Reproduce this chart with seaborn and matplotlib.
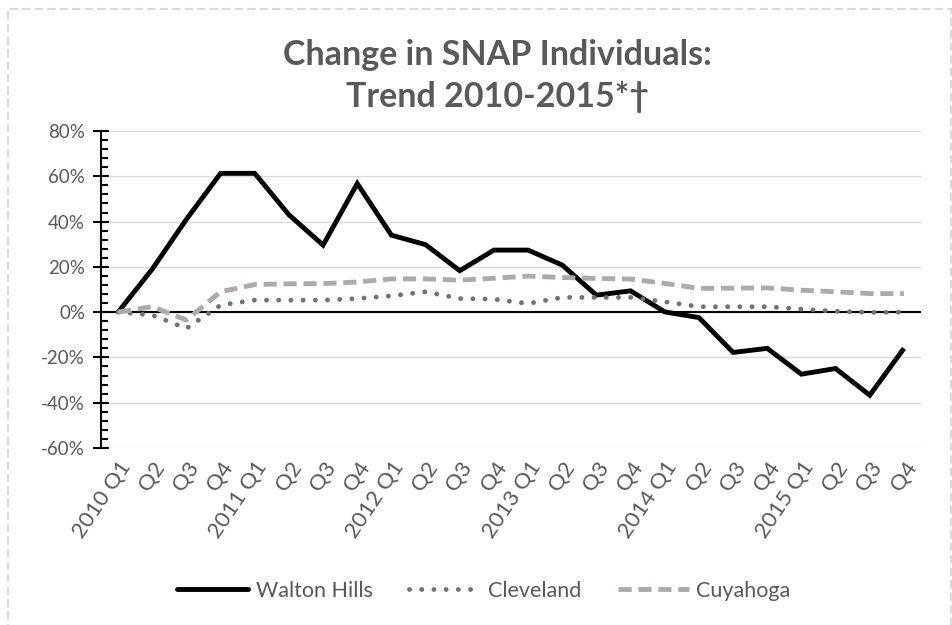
import numpy as np
import pandas as pd
import matplotlib
matplotlib.use("Agg")
import matplotlib.pyplot as plt
import seaborn as sns
from matplotlib.ticker import MultipleLocator, FuncFormatter
from matplotlib.patches import Rectangle
from matplotlib.lines import Line2D

quarters = ["2010 Q1", "Q2", "Q3", "Q4", "2011 Q1", "Q2", "Q3", "Q4",
            "2012 Q1", "Q2", "Q3", "Q4", "2013 Q1", "Q2", "Q3", "Q4",
            "2014 Q1", "Q2", "Q3", "Q4", "2015 Q1", "Q2", "Q3", "Q4"]

walton_hills = [0, 19, 41, 61.3, 61.3, 43, 29.6, 56.8, 34, 29.8, 18.3, 27.4,
                27.4, 20.8, 7.5, 9.4, 0.1, -2.4, -17.8, -16, -27.4, -24.9, -36.7, -16]
cleveland = [0, -1.3, -7.2, 3.1, 5.3, 5.3, 5.3, 6, 7.2, 9, 6, 5.7,
             3.8, 6.5, 6.5, 6.5, 4.6, 2.4, 2.4, 2.4, 1.3, 0.4, -0.1, 0]
cuyahoga = [0, 2.4, -3.5, 9, 12.2, 12.5, 12.6, 13.3, 14.7, 14.7, 14.1, 15,
            15.9, 15.3, 14.9, 14.6, 12.7, 10.5, 10.6, 10.7, 9.7, 9.0, 8.2, 8.2]

series_names = ["Walton Hills", "Cleveland", "Cuyahoga"]

df = pd.DataFrame({
    "x": list(range(len(quarters))) * 3,
    "value": walton_hills + cleveland + cuyahoga,
    "series": sum([[n] * len(quarters) for n in series_names], []),
})

sns.set_theme(style="white")
plt.rcParams["font.family"] = ["Lato", "DejaVu Sans"]

fig = plt.figure(figsize=(9.52, 6.25), dpi=100)
ax = fig.add_axes([101 / 952, 1 - 448 / 625, (921 - 101) / 952, (448 - 131) / 625])

palette = {"Walton Hills": "#000000", "Cleveland": "#767171", "Cuyahoga": "#AEAAAA"}
sns.lineplot(data=df, x="x", y="value", hue="series", palette=palette, ax=ax,
             legend=False, sort=False)

styles = {
    0: dict(lw=3.5, ls="-", cap="butt"),
    1: dict(lw=3.5, ls=(0, (0.01, 2.5)), cap="round"),
    2: dict(lw=3.5, ls=(0, (2.7, 1.4)), cap="butt"),
}
for i, ln in enumerate(ax.get_lines()[:3]):
    ln.set_linewidth(styles[i]["lw"])
    ln.set_linestyle(styles[i]["ls"])
    ln.set_solid_capstyle("butt")
    ln.set_solid_joinstyle("miter")
    ln.set_dash_capstyle(styles[i]["cap"])

ax.set_xlim(-0.5, len(quarters) - 0.5)
ax.set_ylim(-60, 80)
ax.yaxis.set_major_locator(MultipleLocator(20))
ax.yaxis.set_minor_locator(MultipleLocator(4))
ax.yaxis.set_major_formatter(FuncFormatter(lambda v, p: f"{int(round(v))}%"))
ax.grid(axis="y", which="major", color="#D9D9D9", lw=1.0)
ax.set_axisbelow(True)

for s in ["top", "right", "bottom"]:
    ax.spines[s].set_visible(False)
ax.spines["left"].set_color("black")
ax.spines["left"].set_linewidth(1.5)
ax.axhline(0, color="black", lw=1.5, zorder=1.5)

ax.tick_params(axis="y", which="major", direction="inout", length=11, width=1.5,
               color="black", labelsize=13.5, labelcolor="#595959", pad=6, left=True)
ax.tick_params(axis="y", which="minor", direction="in", length=5, width=1.5,
               color="black", left=True)
ax.set_xticks(range(len(quarters)))
ax.set_xticklabels(quarters, rotation=56, ha="right", rotation_mode="anchor")
ax.tick_params(axis="x", length=0, labelsize=16, labelcolor="#595959", pad=7)
ax.set_xlabel("")
ax.set_ylabel("")

fig.text(497 / 952, 1 - 55 / 625, "Change in SNAP Individuals:", ha="center", va="center",
         fontsize=24.5, fontweight="bold", color="#595959")
fig.text(497 / 952, 1 - 97 / 625, "Trend 2010-2015*\u2020", ha="center", va="center",
         fontsize=24.5, fontweight="bold", color="#595959")

handles = [Line2D([], [], color=palette[n], lw=styles[i]["lw"], ls=styles[i]["ls"],
                  dash_capstyle=styles[i]["cap"])
           for i, n in enumerate(series_names)]
fig.legend(handles, series_names, loc="center", bbox_to_anchor=(484 / 952, 1 - 591 / 625),
           ncol=3, frameon=False, fontsize=15.5, labelcolor="#595959",
           handlelength=3.3, columnspacing=1.7, handletextpad=0.35)

fig.add_artist(Rectangle((8 / 952, -0.01), (951 - 8) / 952, 1 - 9 / 625 + 0.01,
                         transform=fig.transFigure, fill=False, ec="#D9D9D9",
                         lw=1.5, ls=(0, (4, 2))))

fig.savefig("out.png", dpi=100)
